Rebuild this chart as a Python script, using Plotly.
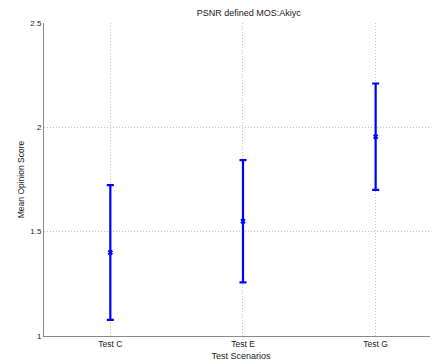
import plotly.graph_objects as go

categories = ["Test C", "Test E", "Test G"]
mean_scores = [1.40, 1.55, 1.955]
ci_half_width = [0.323, 0.293, 0.255]

x_pos = [1, 2, 3]

fig = go.Figure()
fig.add_trace(go.Scatter(
    x=x_pos, y=mean_scores, mode="markers",
    marker=dict(symbol="x-thin", size=4, color="#0000ff", line=dict(width=2, color="#0000ff")),
    error_y=dict(type="data", array=ci_half_width, visible=True, color="#0000ff", thickness=2.2, width=3.5),
    showlegend=False,
))

font = "Liberation Sans, Arial, sans-serif"
grid = dict(showgrid=True, gridcolor="#c4c4c4", griddash="1px,2px", gridwidth=1,
            showline=True, linecolor="#8a8a8a", linewidth=1, ticks="", zeroline=False)
fig.update_layout(
    width=430, height=356,
    margin=dict(l=36, r=0, t=15, b=28),
    paper_bgcolor="white", plot_bgcolor="white",
    title=dict(text="PSNR defined MOS:Akiyc", x=0.56, xanchor="center", y=0.985, yanchor="middle",
               font=dict(family=font, size=9, color="#222")),
    font=dict(family=font, size=8, color="#222"),
    xaxis=dict(range=[0.5, 3.47], tickvals=x_pos, ticktext=categories,
               title=dict(text="Test Scenarios", font=dict(family=font, size=9, color="#222"), standoff=4),
               tickfont=dict(family=font, size=8.5, color="#222"), **grid),
    yaxis=dict(range=[1, 2.5], tickvals=[1, 1.5, 2, 2.5], ticktext=["1", "1.5", "2", "2.5"],
               title=dict(text="Mean Opinion Score", font=dict(family=font, size=8.5, color="#222"), standoff=4),
               tickfont=dict(family=font, size=8, color="#222"), **grid),
)

fig.write_html("out.html")
